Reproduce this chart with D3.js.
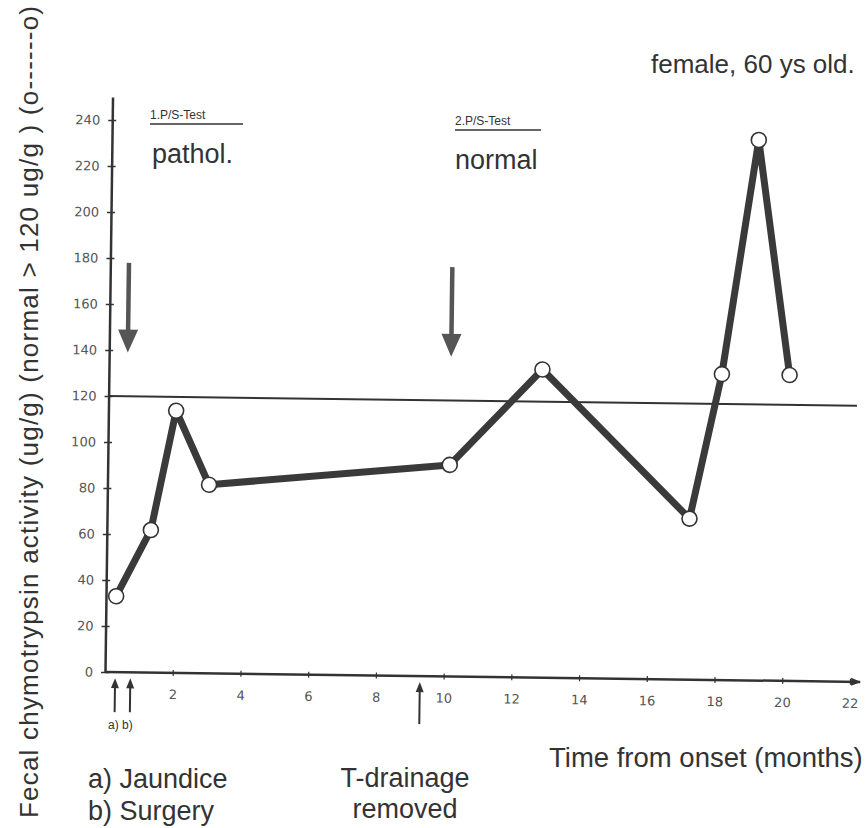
<!DOCTYPE html>
<html>
<head>
<meta charset="utf-8">
<script src="https://cdn.jsdelivr.net/npm/d3@7"></script>
<style>
body { margin: 0; background: #fff; }
svg { display: block; }
</style>
</head>
<body>
<svg id="chart" width="867" height="828"></svg>
<script>
// Fecal chymotrypsin activity over time

var months = [0.3, 1.3, 2.0, 3.0, 10.1, 12.8, 17.2, 18.1, 19.1, 20.1];
var activity = [33, 62, 114, 82, 92, 134, 70, 133, 235, 133];
var xTicks = [2, 4, 6, 8, 10, 12, 14, 16, 18, 20, 22];
var yTicks = [0, 20, 40, 60, 80, 100, 120, 140, 160, 180, 200, 220, 240];
var normalLevel = 120;
var testMonths = [0.55, 10.1];          // 1. and 2. P/S-Test
var eventMonths = [0.3, 0.75, 9.3];     // a) jaundice, b) surgery, T-drainage removed

var ink = "#333333";
var svg = d3.select("#chart");

// the scan is turned a little clockwise, so the plot is too
var plot = svg.append("g")
  .attr("transform", "translate(105,672) rotate(0.75)");

var x = d3.scaleLinear().domain([0, 22]).range([0, 745]);
var y = d3.scaleLinear().domain([0, 250]).range([0, -575]);

// y axis
var yAxis = plot.append("g")
  .call(d3.axisLeft(y).tickValues(yTicks).tickSize(0).tickPadding(12));
yAxis.select(".domain").attr("stroke", ink).attr("stroke-width", 2.5);
yAxis.selectAll(".tick line").attr("x1", -4).attr("x2", 4).attr("stroke", ink).attr("stroke-width", 1.5);
yAxis.selectAll(".tick text")
  .attr("font-family", "DejaVu Sans, sans-serif").attr("font-size", 13).attr("fill", "#555");

// x axis
var xAxis = plot.append("g")
  .call(d3.axisBottom(x).tickValues(xTicks).tickSize(0).tickPadding(17));
xAxis.select(".domain").attr("d", "M0,0H" + x(22.3)).attr("stroke", ink).attr("stroke-width", 2.5);
xAxis.selectAll(".tick line").attr("y1", -3).attr("y2", 3).attr("stroke", ink).attr("stroke-width", 1.2);
xAxis.selectAll(".tick text")
  .attr("font-family", "DejaVu Sans, sans-serif").attr("font-size", 13).attr("fill", "#555");
plot.append("path")
  .attr("d", "M" + (x(22.3) - 9) + ",-4L" + (x(22.3) + 1) + ",0L" + (x(22.3) - 9) + ",4Z")
  .attr("fill", ink);

// normal limit
plot.append("line")
  .attr("x1", 0).attr("x2", x(22.1))
  .attr("y1", y(normalLevel)).attr("y2", y(normalLevel))
  .attr("stroke", ink).attr("stroke-width", 2);

// P/S-Test arrows
testMonths.forEach(function (m) {
  var cx = x(m);
  plot.append("line")
    .attr("x1", cx).attr("x2", cx).attr("y1", y(178)).attr("y2", y(147))
    .attr("stroke", "#555").attr("stroke-width", 4.5);
  plot.append("path")
    .attr("d", "M" + (cx - 10) + "," + y(149) + "L" + (cx + 10) + "," + y(149) + "L" + cx + "," + y(139) + "Z")
    .attr("fill", "#555");
});

// event arrows under the axis
eventMonths.forEach(function (m, i) {
  var cx = x(m);
  var len = i == 2 ? 40 : 32;
  plot.append("line")
    .attr("x1", cx).attr("x2", cx).attr("y1", 12).attr("y2", 8 + len)
    .attr("stroke", ink).attr("stroke-width", 2);
  plot.append("path")
    .attr("d", "M" + (cx - 4) + ",16L" + cx + ",6L" + (cx + 4) + ",16Z")
    .attr("fill", ink);
});

// data line
var line = d3.line()
  .x(function (d, i) { return x(months[i]); })
  .y(function (d) { return y(d); });

plot.append("path")
  .datum(activity)
  .attr("d", line)
  .attr("fill", "none")
  .attr("stroke", "#3a3a3a")
  .attr("stroke-width", 7)
  .attr("stroke-linejoin", "round");

plot.selectAll("circle.pt")
  .data(activity)
  .enter()
  .append("circle")
  .attr("class", "pt")
  .attr("cx", function (d, i) { return x(months[i]); })
  .attr("cy", function (d) { return y(d); })
  .attr("r", 7.5)
  .attr("fill", "#fff")
  .attr("stroke", ink)
  .attr("stroke-width", 1.6);

// texts
function label(txt, tx, ty, size, anchor) {
  return svg.append("text")
    .attr("x", tx).attr("y", ty)
    .attr("font-family", "Liberation Sans, Arial, sans-serif")
    .attr("font-size", size)
    .attr("fill", ink)
    .attr("text-anchor", anchor || "start")
    .text(txt);
}

label("1.P/S-Test", 150, 119, 12);
svg.append("line").attr("x1", 150).attr("x2", 243).attr("y1", 124).attr("y2", 124)
  .attr("stroke", ink).attr("stroke-width", 1.5);
label("pathol.", 152, 163, 27);

label("2.P/S-Test", 455, 125, 12);
svg.append("line").attr("x1", 455).attr("x2", 541).attr("y1", 130).attr("y2", 130)
  .attr("stroke", ink).attr("stroke-width", 1.5);
label("normal", 455, 169, 27);

label("female, 60 ys old.", 651, 73, 26);

label("a) b)", 108, 729, 12);
label("a) Jaundice", 88, 788, 27);
label("b) Surgery", 88, 820, 27);
label("T-drainage", 405, 787, 27, "middle");
label("removed", 405, 818, 27, "middle");
label("Time from onset (months)", 549, 767, 27.5);

svg.append("text")
  .attr("transform", "translate(38,818) rotate(-90)")
  .attr("font-family", "Liberation Sans, Arial, sans-serif")
  .attr("font-size", 26)
  .attr("fill", ink)
  .attr("textLength", 812)
  .attr("lengthAdjust", "spacing")
  .text("Fecal chymotrypsin activity (ug/g) (normal > 120 ug/g ) (o------o)");
</script>
</body>
</html>
